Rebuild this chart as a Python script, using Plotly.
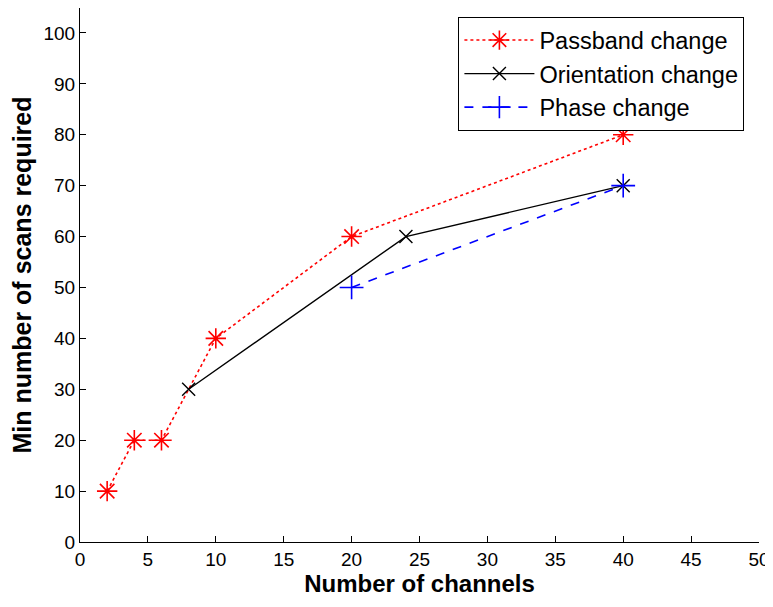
import plotly.graph_objects as go

passband_x = [2, 4, 6, 10, 20, 40]
passband_y = [10, 20, 20, 40, 60, 80]
orient_x = [8, 24, 40]
orient_y = [30, 60, 70]
phase_x = [20, 40]
phase_y = [50, 70]
x_ticks = [0, 5, 10, 15, 20, 25, 30, 35, 40, 45, 50]
y_ticks = [0, 10, 20, 30, 40, 50, 60, 70, 80, 90, 100]

FONT = "Liberation Sans, Arial, sans-serif"

fig = go.Figure()
fig.add_trace(go.Scatter(
    x=passband_x, y=passband_y, name="Passband change", mode="lines+markers",
    line=dict(color="#ff0000", width=1.6, dash="dot"),
    marker=dict(symbol="asterisk-open", size=17, color="#ff0000", line=dict(color="#ff0000", width=1.6)),
))
fig.add_trace(go.Scatter(
    x=orient_x, y=orient_y, name="Orientation change", mode="lines+markers",
    line=dict(color="#000000", width=1.4),
    marker=dict(symbol="x-thin-open", size=13, color="#000000", line=dict(color="#000000", width=1.4)),
))
fig.add_trace(go.Scatter(
    x=phase_x, y=phase_y, name="Phase change", mode="lines+markers",
    line=dict(color="#0000ff", width=1.6, dash="dash"),
    marker=dict(symbol="cross-thin-open", size=17, color="#0000ff", line=dict(color="#0000ff", width=1.6)),
))

# The page body adds an 8px offset, so the figure is sized 765x599.
fig.update_layout(
    width=765, height=599,
    margin=dict(l=72, r=14, t=0, b=65, autoexpand=False),
    paper_bgcolor="white", plot_bgcolor="white",
    font=dict(family=FONT, size=19, color="black"),
    showlegend=True,
    legend=dict(
        x=0.557, y=0.983, xanchor="left", yanchor="top",
        bordercolor="black", borderwidth=1.2, bgcolor="white",
        font=dict(family=FONT, size=23.5),
        tracegroupgap=0, itemwidth=70,
    ),
    xaxis=dict(
        range=[0, 50], tickvals=x_ticks, ticks="inside", ticklen=6, tickcolor="black",
        showline=True, linecolor="black", linewidth=1.2, showgrid=False, zeroline=False,
        title=dict(text="<b>Number of channels</b>", font=dict(size=24), standoff=0),
        tickfont=dict(size=19), automargin=False,
    ),
    yaxis=dict(
        range=[0, 104.9], tickvals=y_ticks, ticks="inside", ticklen=6, tickcolor="black",
        showline=True, linecolor="black", linewidth=1.2, showgrid=False, zeroline=False,
        title=dict(text="<b>Min number of scans required</b>", font=dict(size=25), standoff=14),
        tickfont=dict(size=19), automargin=False,
    ),
)

fig.write_html("out.html")
